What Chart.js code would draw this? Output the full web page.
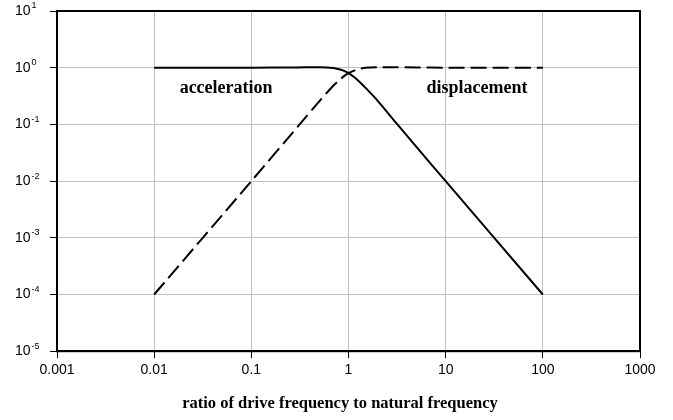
<!DOCTYPE html>
<html>
<head>
<meta charset="utf-8">
<script src="https://cdn.jsdelivr.net/npm/chart.js@4.4.0/dist/chart.umd.min.js"></script>
<style>
  html, body { margin: 0; padding: 0; background: #fff; }
  #wrap { width: 673px; height: 420px; }
</style>
</head>
<body>
<div id="wrap"><canvas id="chart"></canvas></div>
<script>
// frequency ratio (drive / natural) and the two response curves
const ratio = [0.01, 0.1, 0.3, 0.5, 0.7, 0.8, 0.9, 1, 1.2, 1.5, 2, 3, 5, 10, 100];
const acceleration = [1, 1, 1.01, 1.02, 0.99, 0.94, 0.88, 0.8, 0.64, 0.44, 0.26, 0.113, 0.04, 0.01, 0.0001];
const displacement = [0.0001, 0.01, 0.091, 0.255, 0.485, 0.6, 0.71, 0.8, 0.92, 1.0, 1.02, 1.02, 1.01, 1.0, 1.0];

const xTicks = [0.001, 0.01, 0.1, 1, 10, 100, 1000];
const xTickLabels = ['0.001', '0.01', '0.1', '1', '10', '100', '1000'];
const yExponents = [1, 0, -1, -2, -3, -4, -5];
const xTitle = 'ratio of drive frequency to natural frequency';

// curve names written inside the plot: [text, x, y]
const curveLabels = [
  ['acceleration', 0.055, 0.43],
  ['displacement', 21, 0.43]
];

const toPoints = (ys) => ratio.map((r, i) => ({ x: r, y: ys[i] }));

// y tick labels with superscript, curve names, axis title and the black frame
const decorate = {
  id: 'decorate',
  afterDraw(chart) {
    const ctx = chart.ctx;
    const xs = chart.scales.x, ys = chart.scales.y;
    const area = chart.chartArea;
    ctx.save();
    ctx.fillStyle = '#000';
    ctx.textBaseline = 'middle';
    yExponents.forEach(e => {
      const y = ys.getPixelForValue(Math.pow(10, e));
      ctx.font = '14px "Liberation Sans", Arial, sans-serif';
      ctx.textAlign = 'left';
      ctx.fillText('10', 15, y);
      const w = ctx.measureText('10').width;
      ctx.font = '9px "Liberation Sans", Arial, sans-serif';
      ctx.fillText(e < 0 ? '-' + (-e) : String(e), 15 + w + 1, y - 5);
    });
    ctx.font = 'bold 18px "Liberation Serif", "Times New Roman", serif';
    ctx.textAlign = 'center';
    curveLabels.forEach(([t, x, y]) => {
      ctx.fillText(t, xs.getPixelForValue(x), ys.getPixelForValue(y));
    });
    ctx.font = 'bold 16.5px "Liberation Serif", "Times New Roman", serif';
    ctx.fillText(xTitle, 340, 404);
    ctx.strokeStyle = '#000';
    ctx.lineWidth = 2;
    ctx.strokeRect(area.left, area.top, area.right - area.left, area.bottom - area.top);
    ctx.restore();
  }
};

new Chart(document.getElementById('chart'), {
  type: 'line',
  data: {
    datasets: [
      {
        label: 'acceleration',
        data: toPoints(acceleration),
        borderColor: '#000',
        borderWidth: 2,
        pointRadius: 0,
        tension: 0.2,
        fill: false
      },
      {
        label: 'displacement',
        data: toPoints(displacement),
        borderColor: '#000',
        borderWidth: 2,
        borderDash: [16, 6],
        pointRadius: 0,
        tension: 0.2,
        fill: false
      }
    ]
  },
  options: {
    responsive: true,
    maintainAspectRatio: false,
    animation: false,
    layout: { padding: { left: 0, right: 33, top: 11, bottom: 37 } },
    plugins: { legend: { display: false }, tooltip: { enabled: false } },
    scales: {
      x: {
        type: 'logarithmic',
        min: 0.001,
        max: 1000,
        afterBuildTicks(scale) { scale.ticks = xTicks.map(v => ({ value: v })); },
        ticks: {
          color: '#000',
          padding: 4,
          maxRotation: 0,
          autoSkip: false,
          font: { family: '"Liberation Sans", Arial, sans-serif', size: 14 },
          callback: (v) => xTickLabels[xTicks.indexOf(v)]
        },
        grid: { color: '#c0c0c0', tickColor: '#000', tickLength: 7, lineWidth: 1 },
        border: { color: '#000', width: 2 }
      },
      y: {
        type: 'logarithmic',
        min: 1e-5,
        max: 10,
        afterBuildTicks(scale) { scale.ticks = yExponents.map(e => ({ value: Math.pow(10, e) })); },
        afterFit(scale) { scale.width = 57; },
        ticks: { display: false },
        grid: { color: '#c0c0c0', tickColor: '#000', tickLength: 7, lineWidth: 1 },
        border: { color: '#000', width: 2 }
      }
    }
  },
  plugins: [decorate]
});
</script>
</body>
</html>
